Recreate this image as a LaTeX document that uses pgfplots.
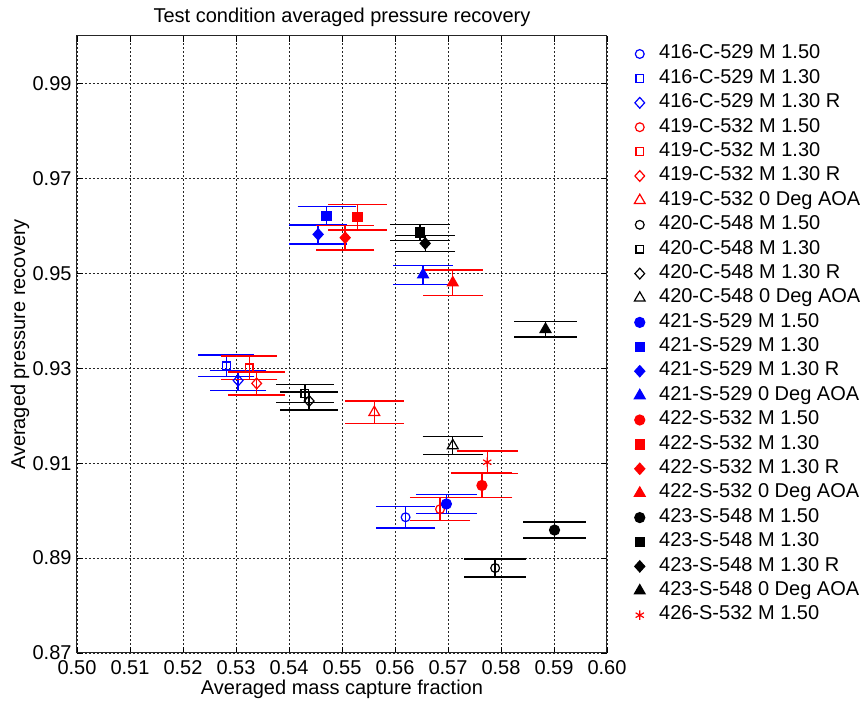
\documentclass[border=0pt]{standalone}
\usepackage{fontspec}
\setmainfont{Liberation Sans}
\usepackage{pgfplots}
\pgfplotsset{compat=1.18}
\newcommand{\fs}{\fontsize{10}{12}\selectfont}
\pgfplotsset{
  ebar/.style={only marks, line width=0.7pt,
    mark options={line width=0.6pt},
    error bars/.cd, y dir=both, y explicit,
    error bar style={line width=0.7pt},
    error mark options={rotate=90, line width=0.7pt, mark size=#1},
    /pgfplots/.cd},
  oc/.style={mark=o, mark size=2.2pt, mark options={fill=white, line width=0.6pt}},
  fc/.style={mark=*, mark size=2.5pt},
  os/.style={mark=square, mark size=1.9pt, mark options={fill=white, line width=0.6pt}},
  fsq/.style={mark=square*, mark size=2.3pt},
  od/.style={mark=diamond, mark size=2.7pt, mark options={xscale=1.2, fill=white, line width=0.6pt}},
  fd/.style={mark=diamond*, mark size=2.7pt, mark options={xscale=1.2}},
  ot/.style={mark=triangle, mark size=3.1pt, mark options={fill=white, line width=0.6pt}},
  ft/.style={mark=triangle*, mark size=3.1pt},
}
\begin{document}
\begin{tikzpicture}
\useasboundingbox (-38.5pt,-24.35pt) rectangle (393.5pt,326.5pt);
\begin{axis}[
  scale only axis,
  width=265pt, height=308.5pt,
  xmin=0.5, xmax=0.6, ymin=0.87, ymax=1.0,
  xtick={0.50,0.51,0.52,0.53,0.54,0.55,0.56,0.57,0.58,0.59,0.60},
  ytick={0.87,0.89,0.91,0.93,0.95,0.97,0.99},
  scaled ticks=false,
  /pgf/number format/assume math mode=true,
  xticklabel style={/pgf/number format/fixed, /pgf/number format/fixed zerofill, /pgf/number format/precision=2, font=\fs},
  yticklabel style={/pgf/number format/fixed, /pgf/number format/fixed zerofill, /pgf/number format/precision=2, font=\fs, xshift=0.8pt},
  tick align=inside,
  major tick length=3pt,
  tick style={black, line width=0.4pt},
  axis line style={black!85, line width=0.5pt},
  xmajorgrids, ymajorgrids,
  grid style={black!85, dash pattern=on 1pt off 1pt, line width=0.4pt},
  every axis title shift=0pt,
  title={Test condition averaged pressure recovery},
  title style={at={(0.5,1.0211)}, anchor=base, font=\fontsize{10}{12}\selectfont},
  xlabel={Averaged mass capture fraction},
  xlabel style={at={(0.5,-0.0676)}, anchor=base, font=\fs},
  ylabel={Averaged pressure recovery},
  ylabel style={at={(-0.0981,0.5)}, anchor=base, font=\fs},
  legend style={at={(1,1)}, anchor=north west, xshift=13.5pt, yshift=-3.5pt,
    draw=none, fill=none, inner sep=0pt, font=\fs, row sep=1.6pt,
    nodes={inner sep=1pt, text height=6.7pt, text depth=1.9pt},
    /tikz/every odd column/.append style={column sep=6pt}},
  legend cell align=left,
]
% 416-C-529 (blue, open)
\addplot[blue, ebar=14.89pt, oc] coordinates {(0.5620,0.8986) +- (0,0.0023)};
\addlegendentry{416-C-529 M 1.50}
\addplot[blue, ebar=14.00pt, os] coordinates {(0.5282,0.9305) +- (0,0.0023)};
\addlegendentry{416-C-529 M 1.30}
\addplot[blue, ebar=14.06pt, od] coordinates {(0.5304,0.9274) +- (0,0.0021)};
\addlegendentry{416-C-529 M 1.30 R}
% 419-C-532 (red, open)
\addplot[red, ebar=15.07pt, oc] coordinates {(0.5685,0.9003) +- (0,0.0024)};
\addlegendentry{419-C-532 M 1.50}
\addplot[red, ebar=14.11pt, os] coordinates {(0.5325,0.9301) +- (0,0.0025)};
\addlegendentry{419-C-532 M 1.30}
\addplot[red, ebar=14.15pt, od] coordinates {(0.5339,0.9268) +- (0,0.0024)};
\addlegendentry{419-C-532 M 1.30 R}
\addplot[red, ebar=14.74pt, ot] coordinates {(0.5561,0.9207) +- (0,0.0024)};
\addlegendentry{419-C-532 0 Deg AOA}
% 420-C-548 (black, open)
\addplot[black, ebar=15.34pt, oc] coordinates {(0.5789,0.8879) +- (0,0.0019)};
\addlegendentry{420-C-548 M 1.50}
\addplot[black, ebar=14.39pt, os] coordinates {(0.5430,0.9247) +- (0,0.0019)};
\addlegendentry{420-C-548 M 1.30}
\addplot[black, ebar=14.41pt, od] coordinates {(0.5438,0.9231) +- (0,0.0019)};
\addlegendentry{420-C-548 M 1.30 R}
\addplot[black, ebar=15.13pt, ot] coordinates {(0.5709,0.9137) +- (0,0.0019)};
\addlegendentry{420-C-548 0 Deg AOA}
% 421-S-529 (blue, filled)
\addplot[blue, ebar=15.10pt, fc] coordinates {(0.5697,0.9014) +- (0,0.0020)};
\addlegendentry{421-S-529 M 1.50}
\addplot[blue, ebar=14.50pt, fsq] coordinates {(0.5471,0.9621) +- (0,0.0020)};
\addlegendentry{421-S-529 M 1.30}
\addplot[blue, ebar=14.46pt, fd] coordinates {(0.5455,0.9582) +- (0,0.0020)};
\addlegendentry{421-S-529 M 1.30 R}
\addplot[blue, ebar=14.98pt, ft] coordinates {(0.5653,0.9497) +- (0,0.0020)};
\addlegendentry{421-S-529 0 Deg AOA}
% 422-S-532 (red, filled)
\addplot[red, ebar=15.27pt, fc] coordinates {(0.5764,0.9053) +- (0,0.0026)};
\addlegendentry{422-S-532 M 1.50}
\addplot[red, ebar=14.65pt, fsq] coordinates {(0.5529,0.9618) +- (0,0.0027)};
\addlegendentry{422-S-532 M 1.30}
\addplot[red, ebar=14.59pt, fd] coordinates {(0.5506,0.9575) +- (0,0.0026)};
\addlegendentry{422-S-532 M 1.30 R}
\addplot[red, ebar=15.13pt, ft] coordinates {(0.5709,0.9480) +- (0,0.0027)};
\addlegendentry{422-S-532 0 Deg AOA}
% 423-S-548 (black, filled)
\addplot[black, ebar=15.64pt, fc] coordinates {(0.5901,0.8959) +- (0,0.0017)};
\addlegendentry{423-S-548 M 1.50}
\addplot[black, ebar=14.96pt, fsq] coordinates {(0.5647,0.9586) +- (0,0.0017)};
\addlegendentry{423-S-548 M 1.30}
\addplot[black, ebar=14.99pt, fd] coordinates {(0.5657,0.9563) +- (0,0.0017)};
\addlegendentry{423-S-548 M 1.30 R}
\addplot[black, ebar=15.59pt, ft] coordinates {(0.5884,0.9382) +- (0,0.0016)};
\addlegendentry{423-S-548 0 Deg AOA}
% 426-S-532
\addplot[red, ebar=15.30pt, mark=asterisk, mark size=2.4pt] coordinates {(0.5774,0.9102) +- (0,0.0024)};
\addlegendentry{426-S-532 M 1.50}
\end{axis}
\end{tikzpicture}
\end{document}
